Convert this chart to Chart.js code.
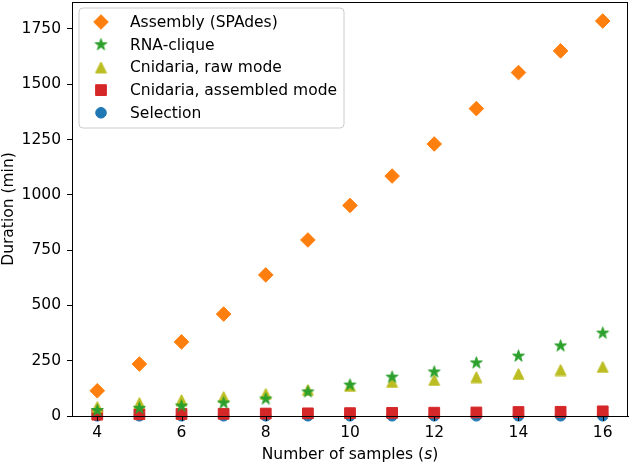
<!DOCTYPE html>
<html>
<head>
<meta charset="utf-8">
<script src="https://cdn.jsdelivr.net/npm/chart.js@4.4.0/dist/chart.umd.min.js"></script>
<style>
  html, body { margin: 0; padding: 0; background: #fff; }
  #wrap { width: 630px; height: 464px; position: relative; }
</style>
</head>
<body>
<div id="wrap"><canvas id="c"></canvas></div>
<script>
// ---- data ----
const samples = [4, 5, 6, 7, 8, 9, 10, 11, 12, 13, 14, 15, 16];
const assembly = [114, 235, 335, 461, 638, 796, 952, 1085, 1230, 1390, 1553, 1651, 1786];
const rnaClique = [25, 35, 45, 59, 77, 109, 140, 176, 199, 240, 271, 317, 375];
const cnidariaRaw = [41, 59, 72, 86, 100, 118, 136, 154, 163, 176, 190, 208, 222];
const cnidariaAssembled = [6, 8, 9, 10, 11, 12, 13, 14, 15, 16, 18, 19, 21];
const selection = [1, 1, 1, 1, 1, 1, 1, 1, 1, 1, 1, 1, 1];
const seriesLabels = ['Assembly (SPAdes)', 'RNA-clique', 'Cnidaria, raw mode', 'Cnidaria, assembled mode', 'Selection'];
const xTickValues = [4, 6, 8, 10, 12, 14, 16];
const yTickValues = [0, 250, 500, 750, 1000, 1250, 1500, 1750];

const FONT = 'DejaVu Sans';
const FS = 15.5;

// ---- marker images (matplotlib-like filled star and triangle) ----
function starCanvas(color, R) {
  const s = Math.ceil(R * 2 + 2);
  const c = document.createElement('canvas'); c.width = s; c.height = s;
  const g = c.getContext('2d');
  const cx = s / 2, cy = s / 2, r = R * 0.381966;
  g.beginPath();
  for (let i = 0; i < 10; i++) {
    const rad = i % 2 === 0 ? R : r;
    const a = -Math.PI / 2 + i * Math.PI / 5;
    const px = cx + rad * Math.cos(a), py = cy + rad * Math.sin(a);
    if (i === 0) g.moveTo(px, py); else g.lineTo(px, py);
  }
  g.closePath();
  g.fillStyle = color; g.fill();
  g.lineWidth = 1; g.strokeStyle = color; g.stroke();
  return c;
}
function triCanvas(color, W) {
  const s = Math.ceil(W + 2);
  const c = document.createElement('canvas'); c.width = s; c.height = s;
  const g = c.getContext('2d');
  const cx = s / 2, cy = s / 2, h = W / 2;
  g.beginPath();
  g.moveTo(cx, cy - h);
  g.lineTo(cx - h, cy + h);
  g.lineTo(cx + h, cy + h);
  g.closePath();
  g.fillStyle = color; g.fill();
  g.lineWidth = 1; g.strokeStyle = color; g.stroke();
  return c;
}

const C_ORANGE = '#ff7f0e', C_GREEN = '#2ca02c', C_OLIVE = '#bcbd22', C_RED = '#d62728', C_BLUE = '#1f77b4';
const starImg = starCanvas(C_GREEN, 6.2);
const triImg = triCanvas(C_OLIVE, 11);

function pts(ys) { return samples.map((x, i) => ({ x: x, y: ys[i] })); }

const datasets = [
  { label: seriesLabels[0], data: pts(assembly), pointStyle: 'rectRot', pointRadius: 7.3, borderWidth: 1, backgroundColor: C_ORANGE, borderColor: C_ORANGE },
  { label: seriesLabels[1], data: pts(rnaClique), pointStyle: starImg, pointRadius: 6, backgroundColor: C_GREEN, borderColor: C_GREEN },
  { label: seriesLabels[2], data: pts(cnidariaRaw), pointStyle: triImg, pointRadius: 6, backgroundColor: C_OLIVE, borderColor: C_OLIVE },
  { label: seriesLabels[3], data: pts(cnidariaAssembled), pointStyle: 'rect', pointRadius: 7.6, borderWidth: 1, backgroundColor: C_RED, borderColor: C_RED },
  { label: seriesLabels[4], data: pts(selection), pointStyle: 'circle', pointRadius: 5.3, borderWidth: 1, backgroundColor: C_BLUE, borderColor: C_BLUE }
].map(d => Object.assign(d, { clip: false, showLine: false, pointHoverRadius: d.pointRadius }));

// custom overlay: frame, ticks over markers, legend, x-axis title with italic s
const overlay = {
  id: 'overlay',
  afterDatasetsDraw(chart) {
    const ctx = chart.ctx, a = chart.chartArea;
    const xs = chart.scales.x;
    ctx.save();
    ctx.strokeStyle = '#000';
    ctx.lineWidth = 1;
    ctx.strokeRect(Math.round(a.left) + 0.5, Math.round(a.top) + 0.5, Math.round(a.right - a.left) - 1, Math.round(a.bottom - a.top));
    // bottom tick marks redrawn on top of markers
    ctx.beginPath();
    xTickValues.forEach(v => {
      const px = Math.round(xs.getPixelForValue(v)) + 0.5;
      ctx.moveTo(px, a.bottom);
      ctx.lineTo(px, a.bottom + 5);
    });
    ctx.stroke();

    // legend
    const bx = a.left + 7, by = a.top + 6, bw = 265, bh = 120, rr = 4;
    ctx.beginPath();
    ctx.moveTo(bx + rr, by);
    ctx.lineTo(bx + bw - rr, by); ctx.quadraticCurveTo(bx + bw, by, bx + bw, by + rr);
    ctx.lineTo(bx + bw, by + bh - rr); ctx.quadraticCurveTo(bx + bw, by + bh, bx + bw - rr, by + bh);
    ctx.lineTo(bx + rr, by + bh); ctx.quadraticCurveTo(bx, by + bh, bx, by + bh - rr);
    ctx.lineTo(bx, by + rr); ctx.quadraticCurveTo(bx, by, bx + rr, by);
    ctx.closePath();
    ctx.fillStyle = 'rgba(255,255,255,0.8)';
    ctx.fill();
    ctx.strokeStyle = '#cccccc';
    ctx.lineWidth = 1;
    ctx.stroke();
    ctx.font = FS + 'px "' + FONT + '"';
    ctx.textBaseline = 'middle';
    ctx.textAlign = 'left';
    chart.data.datasets.forEach((d, i) => {
      const ry = by + 14 + i * 22.7;
      ctx.fillStyle = d.backgroundColor;
      ctx.strokeStyle = d.borderColor;
      ctx.lineWidth = d.borderWidth || 0;
      Chart.helpers.drawPoint(ctx, { pointStyle: d.pointStyle, radius: d.pointRadius, rotation: 0, borderWidth: d.borderWidth || 0 }, bx + 22, ry);
      ctx.fillStyle = '#000';
      ctx.fillText(d.label, bx + 51, ry + 1);
    });

    // x-axis title
    const parts = [['Number of samples (', ''], ['s', 'italic '], [')', '']];
    let total = 0;
    parts.forEach(p => { ctx.font = p[1] + FS + 'px "' + FONT + '"'; p.push(ctx.measureText(p[0]).width); total += p[2]; });
    let x0 = (a.left + a.right) / 2 - total / 2;
    ctx.fillStyle = '#000';
    parts.forEach(p => { ctx.font = p[1] + FS + 'px "' + FONT + '"'; ctx.fillText(p[0], x0, 455); x0 += p[2]; });
    ctx.restore();
  }
};

const ZERO = () => ({ left: 0, top: 0, right: 0, bottom: 0 });
function zeroPad(s) {
  s.paddingTop = 0; s.paddingBottom = 0; s.paddingLeft = 0; s.paddingRight = 0;
  s.getPadding = ZERO;
}

new Chart(document.getElementById('c'), {
  type: 'scatter',
  data: { datasets: datasets },
  options: {
    responsive: true,
    maintainAspectRatio: false,
    animation: false,
    layout: { autoPadding: false, padding: { top: 2, right: 2, left: 0, bottom: 0 } },
    plugins: { legend: { display: false }, tooltip: { enabled: false } },
    scales: {
      x: {
        type: 'linear', min: 3.4, max: 16.6,
        afterBuildTicks: s => { s.ticks = xTickValues.map(v => ({ value: v })); },
        afterFit: s => { s.height = 48; zeroPad(s); },
        grid: { display: true, drawOnChartArea: false, drawTicks: true, tickLength: 5, color: '#000' },
        border: { display: true, color: '#000', width: 1 },
        ticks: { color: '#000', font: { family: FONT, size: FS }, padding: 3, maxRotation: 0, autoSkip: false, callback: v => String(v) }
      },
      y: {
        type: 'linear', min: 0, max: 1872,
        afterBuildTicks: s => { s.ticks = yTickValues.map(v => ({ value: v })); },
        afterFit: s => { s.width = 72; zeroPad(s); },
        grid: { display: true, drawOnChartArea: false, drawTicks: true, tickLength: 5, color: '#000' },
        border: { display: true, color: '#000', width: 1 },
        ticks: { color: '#000', font: { family: FONT, size: FS }, padding: 6, autoSkip: false, callback: v => String(v) },
        title: { display: true, text: 'Duration (min)', color: '#000', font: { family: FONT, size: FS }, padding: { top: 0, bottom: 0 } }
      }
    }
  },
  plugins: [overlay]
});
</script>
</body>
</html>
